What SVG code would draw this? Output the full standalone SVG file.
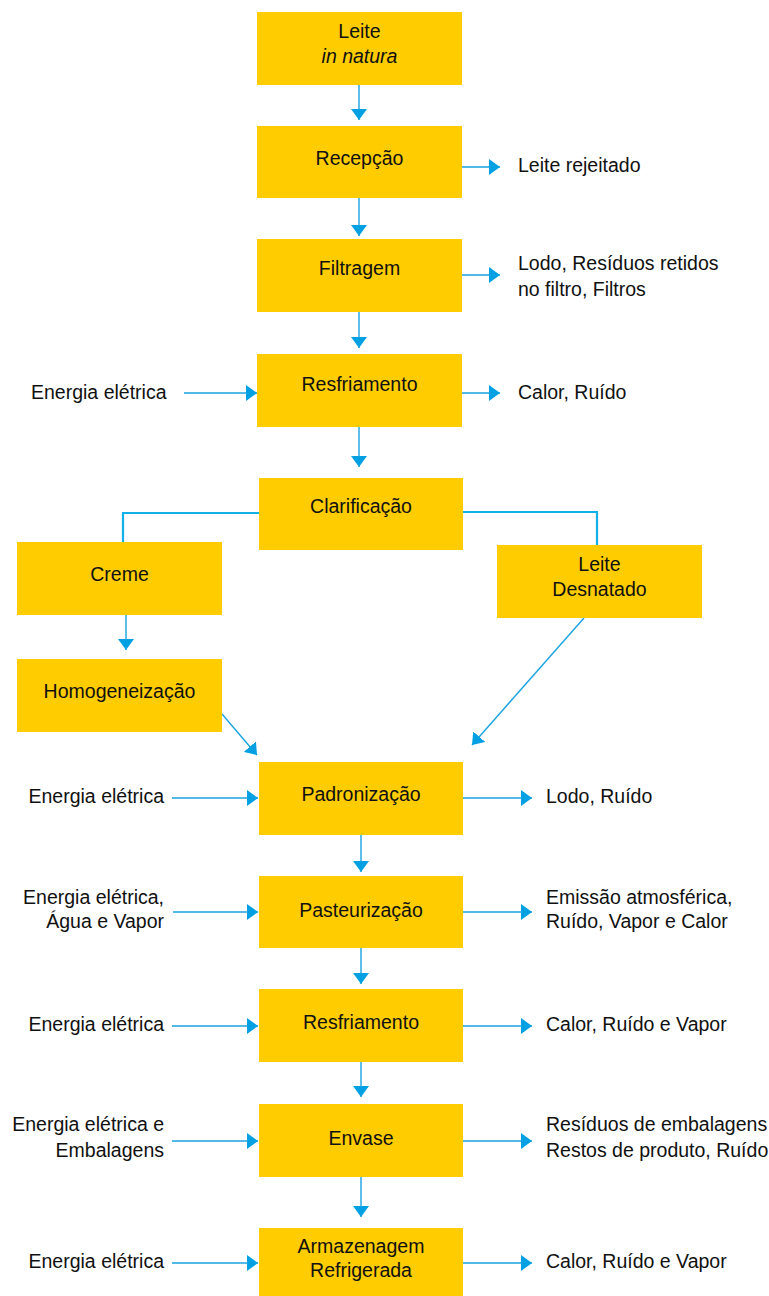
<svg xmlns="http://www.w3.org/2000/svg" width="769" height="1296" viewBox="0 0 769 1296">
<defs>
<style>
.box{fill:#FFCC00;}
.t{font-family:"Liberation Sans",Arial,sans-serif;font-size:19.5px;fill:#111;}
.c{text-anchor:middle;}
.r{text-anchor:end;}
.ln{stroke:#1aa3e0;stroke-width:1.4;fill:none;}
.lt{stroke:#12b0e6;stroke-width:2.2;fill:none;}
</style>
<marker id="ah" markerUnits="userSpaceOnUse" markerWidth="12" markerHeight="16" refX="11" refY="8" orient="auto">
<path d="M0,0 L11,8 L0,16 z" fill="#00a0e3"/>
</marker>
</defs>
<rect width="769" height="1296" fill="#ffffff"/>
<g id="connectors">
<line class="ln" x1="359" y1="85" x2="359" y2="120" marker-end="url(#ah)"/>
<line class="ln" x1="359" y1="198" x2="359" y2="236" marker-end="url(#ah)"/>
<line class="ln" x1="359" y1="312" x2="359" y2="348" marker-end="url(#ah)"/>
<line class="ln" x1="359" y1="427" x2="359" y2="467" marker-end="url(#ah)"/>
<line class="ln" x1="462" y1="167" x2="500" y2="167" marker-end="url(#ah)"/>
<line class="ln" x1="462" y1="275" x2="500" y2="275" marker-end="url(#ah)"/>
<line class="ln" x1="184" y1="393" x2="257" y2="393" marker-end="url(#ah)"/>
<line class="ln" x1="462" y1="393" x2="500" y2="393" marker-end="url(#ah)"/>
<polyline class="lt" points="259,513 123,513 123,542"/>
<polyline class="lt" points="463,512 597,512 597,545"/>
<line class="ln" x1="126" y1="615" x2="126" y2="650" marker-end="url(#ah)"/>
<line class="ln" x1="222" y1="714" x2="257" y2="755" marker-end="url(#ah)"/>
<line class="ln" x1="584" y1="618" x2="472" y2="745" marker-end="url(#ah)"/>
<line class="ln" x1="361" y1="835" x2="361" y2="872" marker-end="url(#ah)"/>
<line class="ln" x1="361" y1="948" x2="361" y2="984" marker-end="url(#ah)"/>
<line class="ln" x1="361" y1="1062" x2="361" y2="1097" marker-end="url(#ah)"/>
<line class="ln" x1="361" y1="1177" x2="361" y2="1217" marker-end="url(#ah)"/>
<line class="ln" x1="172" y1="798" x2="258" y2="798" marker-end="url(#ah)"/>
<line class="ln" x1="463" y1="798" x2="532" y2="798" marker-end="url(#ah)"/>
<line class="ln" x1="173" y1="912" x2="258" y2="912" marker-end="url(#ah)"/>
<line class="ln" x1="463" y1="912" x2="532" y2="912" marker-end="url(#ah)"/>
<line class="ln" x1="172" y1="1026" x2="258" y2="1026" marker-end="url(#ah)"/>
<line class="ln" x1="463" y1="1026" x2="532" y2="1026" marker-end="url(#ah)"/>
<line class="ln" x1="172" y1="1141" x2="258" y2="1141" marker-end="url(#ah)"/>
<line class="ln" x1="463" y1="1141" x2="532" y2="1141" marker-end="url(#ah)"/>
<line class="ln" x1="172" y1="1263" x2="258" y2="1263" marker-end="url(#ah)"/>
<line class="ln" x1="463" y1="1263" x2="532" y2="1263" marker-end="url(#ah)"/>
</g>
<g id="n-leite"><rect class="box" x="257" y="12" width="205" height="73"/><text class="t c" x="359.5" y="38">Leite</text><text class="t c" x="359.5" y="63" font-style="italic">in natura</text></g>
<g id="n-recepcao"><rect class="box" x="257" y="126" width="205" height="72"/><text class="t c" x="359.5" y="165">Recepção</text></g>
<g id="n-filtragem"><rect class="box" x="257" y="239" width="205" height="73"/><text class="t c" x="359.5" y="275">Filtragem</text></g>
<g id="n-resfriamento1"><rect class="box" x="257" y="354" width="205" height="73"/><text class="t c" x="359.5" y="391">Resfriamento</text></g>
<g id="n-clarificacao"><rect class="box" x="259" y="478" width="204" height="72"/><text class="t c" x="361" y="513">Clarificação</text></g>
<g id="n-creme"><rect class="box" x="17" y="542" width="205" height="73"/><text class="t c" x="119.5" y="581">Creme</text></g>
<g id="n-desnatado"><rect class="box" x="497" y="545" width="205" height="73"/><text class="t c" x="599.5" y="571">Leite</text><text class="t c" x="599.5" y="596">Desnatado</text></g>
<g id="n-homogeneizacao"><rect class="box" x="17" y="659" width="205" height="73"/><text class="t c" x="119.5" y="698">Homogeneização</text></g>
<g id="n-padronizacao"><rect class="box" x="259" y="762" width="204" height="73"/><text class="t c" x="361" y="801">Padronização</text></g>
<g id="n-pasteurizacao"><rect class="box" x="259" y="876" width="204" height="72"/><text class="t c" x="361" y="917">Pasteurização</text></g>
<g id="n-resfriamento2"><rect class="box" x="259" y="989" width="204" height="73"/><text class="t c" x="361" y="1029">Resfriamento</text></g>
<g id="n-envase"><rect class="box" x="259" y="1104" width="204" height="73"/><text class="t c" x="361" y="1145">Envase</text></g>
<g id="n-armazenagem"><rect class="box" x="259" y="1228" width="204" height="72"/><text class="t c" x="361" y="1253">Armazenagem</text><text class="t c" x="361" y="1277">Refrigerada</text></g>
<g id="labels">
<text class="t" x="518" y="172">Leite rejeitado</text>
<text class="t" x="518" y="270">Lodo, Resíduos retidos</text>
<text class="t" x="518" y="296">no filtro, Filtros</text>
<text class="t" x="31" y="399">Energia elétrica</text>
<text class="t" x="518" y="399">Calor, Ruído</text>
<text class="t r" x="164" y="803">Energia elétrica</text>
<text class="t" x="546" y="803">Lodo, Ruído</text>
<text class="t r" x="164" y="904">Energia elétrica,</text>
<text class="t r" x="164" y="928">Água e Vapor</text>
<text class="t" x="546" y="904">Emissão atmosférica,</text>
<text class="t" x="546" y="928">Ruído, Vapor e Calor</text>
<text class="t r" x="164" y="1031">Energia elétrica</text>
<text class="t" x="546" y="1031">Calor, Ruído e Vapor</text>
<text class="t r" x="164" y="1131">Energia elétrica e</text>
<text class="t r" x="164" y="1157">Embalagens</text>
<text class="t" x="546" y="1131">Resíduos de embalagens</text>
<text class="t" x="546" y="1157">Restos de produto, Ruído</text>
<text class="t r" x="164" y="1268">Energia elétrica</text>
<text class="t" x="546" y="1268">Calor, Ruído e Vapor</text>
</g>
</svg>
